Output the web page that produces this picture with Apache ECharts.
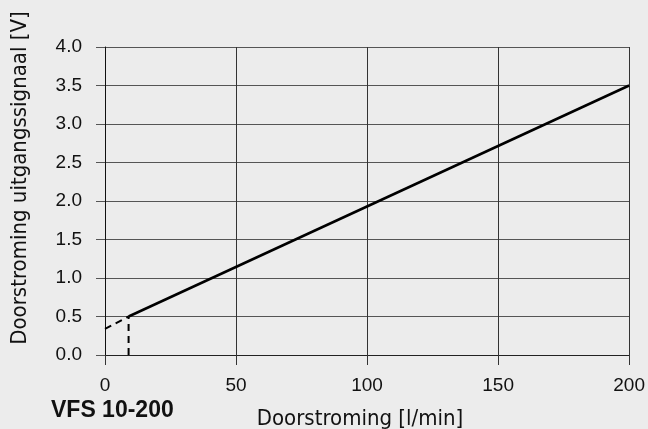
<!DOCTYPE html>
<html><head><meta charset="utf-8">
<script src="https://cdn.jsdelivr.net/npm/echarts@6/dist/echarts.min.js"></script>
<style>html,body{margin:0;padding:0;background:#ececec}#c{width:648px;height:429px}</style>
</head><body><div id="c"></div>
<script>
const xTicks = [0, 50, 100, 150, 200];
const yTicks = [0.0, 0.5, 1.0, 1.5, 2.0, 2.5, 3.0, 3.5, 4.0];
const solidLine = [[9, 0.5], [200, 3.5]];
const dashedExtension = [[0, 0.34], [9, 0.5]];
const dashedDrop = [[9, 0], [9, 0.5]];
const titleText = 'VFS 10-200';
const xName = 'Doorstroming [l/min]';
const yName = 'Doorstroming uitgangssignaal [V]';

const narrow = '"DejaVu Sans Condensed", "Liberation Sans Narrow", Roboto, sans-serif';
const chart = echarts.init(document.getElementById('c'));
chart.setOption({
  backgroundColor: '#ececec',
  animation: false,
  graphic: [
    { type: 'text', left: 51, top: 399, style: { text: titleText, font: 'bold 23px "Liberation Sans", Arial, sans-serif', fill: '#111' } },
    { type: 'text', x: 360, y: 419, style: { text: xName, font: '22px ' + narrow, fill: '#111', textAlign: 'center', textVerticalAlign: 'middle' } },
    { type: 'text', x: 20, y: 178, rotation: Math.PI / 2, style: { text: yName, font: '22px ' + narrow, fill: '#111', textAlign: 'center', textVerticalAlign: 'middle' } }
  ],
  grid: { left: 105, right: 16, top: 47, bottom: 74 },
  xAxis: {
    type: 'value', min: 0, max: 200, interval: 50,
    axisLine: { show: true, lineStyle: { color: '#222', width: 1 } },
    axisTick: { show: true, length: 10, lineStyle: { color: '#333' } },
    axisLabel: { fontFamily: 'Liberation Sans', fontSize: 19, color: '#111', margin: 21 },
    splitLine: { show: true, lineStyle: { color: '#333', width: 1 } }
  },
  yAxis: {
    type: 'value', min: 0, max: 4, interval: 0.5,
    axisLine: { show: true, lineStyle: { color: '#111', width: 1 } },
    axisTick: { show: true, length: 9, lineStyle: { color: '#555' } },
    axisLabel: { fontFamily: 'Liberation Sans', fontSize: 19, color: '#111', margin: 23, formatter: v => v.toFixed(1) },
    splitLine: { show: true, lineStyle: { color: '#555', width: 1 } }
  },
  series: [
    { type: 'line', data: solidLine, symbol: 'none', lineStyle: { color: '#000', width: 2.5 } },
    { type: 'line', data: dashedExtension, symbol: 'none', lineStyle: { color: '#000', width: 2, type: [7, 5] } },
    { type: 'line', data: dashedDrop, symbol: 'none', lineStyle: { color: '#000', width: 2, type: [7, 5] } }
  ]
});
</script></body></html>
